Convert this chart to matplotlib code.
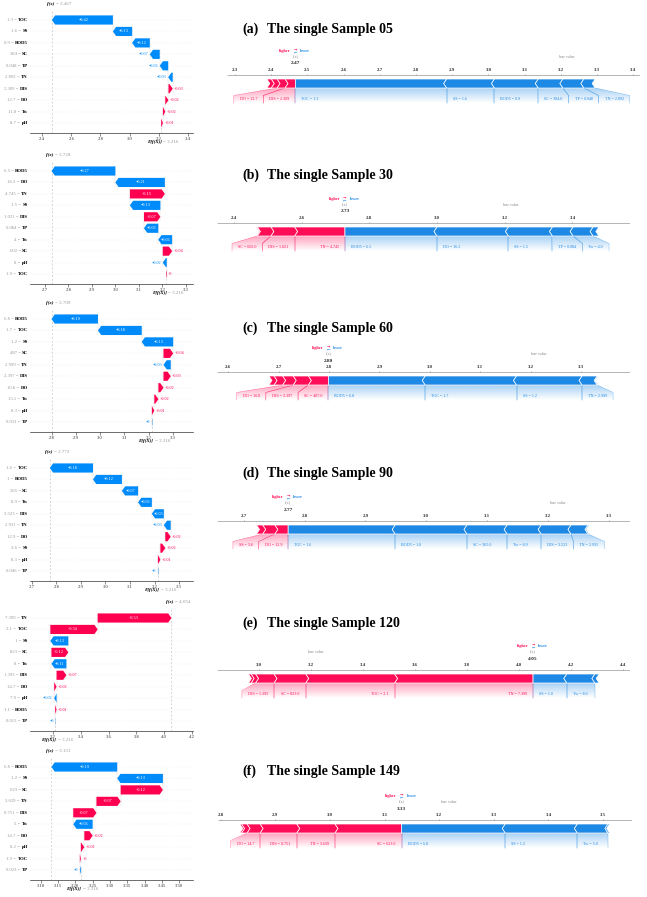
import re
import numpy as np
import matplotlib
matplotlib.use("Agg")
import matplotlib.pyplot as plt
import matplotlib.transforms as mtransforms
from matplotlib.patches import Polygon
from matplotlib.ticker import MultipleLocator
from matplotlib.font_manager import FontProperties
from matplotlib.colors import to_rgb

plt.rcParams['font.family'] = ['Liberation Serif', 'DejaVu Serif']

# ---------------- data ----------------
base_value = 3.216

panel_tags = ["(a)", "(b)", "(c)", "(d)", "(e)", "(f)"]
panel_titles = ["The single Sample 05", "The single Sample 30", "The single Sample 60",
                "The single Sample 90", "The single Sample 120", "The single Sample 149"]

names_a = ["TOC", "SS", "BOD5", "SC", "TP", "TN", "DIS", "DO", "Tw", "pH"]
values_a = [1.3, 1.6, 0.9, 384.0, 0.048, 2.892, 2.309, 12.7, 11.8, 8.7]
shap_a = [-0.418, -0.132, -0.121, -0.068, -0.058, -0.031, 0.029, 0.022, 0.016, 0.012]

names_b = ["BOD5", "DO", "TN", "SS", "DIS", "TP", "Tw", "SC", "pH", "TOC"]
values_b = [6.5, 16.2, 4.745, 1.5, 1.021, 0.084, 4.0, 602.0, 8.0, 1.9]
shap_b = [-0.272, -0.211, 0.149, -0.13, 0.07, -0.061, -0.059, 0.04, -0.017, 0.003]

names_c = ["BOD5", "TOC", "SS", "SC", "TN", "DIS", "DO", "Tw", "pH", "TP"]
values_c = [6.8, 1.7, 1.2, 487.0, 2.999, 2.397, 10.8, 13.1, 8.3, 0.031]
shap_c = [-0.192, -0.181, -0.13, 0.04, -0.03, 0.03, 0.021, 0.017, 0.01, -0.002]

names_d = ["TOC", "BOD5", "SC", "Tw", "DIS", "TN", "DO", "SS", "pH", "TP"]
values_d = [1.6, 1.0, 365.0, 8.9, 3.523, 2.931, 12.9, 3.6, 8.3, 0.046]
shap_d = [-0.176, -0.118, -0.066, -0.056, -0.049, -0.028, 0.022, 0.02, 0.01, -0.002]

names_e = ["TN", "TOC", "SS", "SC", "Tw", "DIS", "DO", "pH", "BOD5", "TP"]
values_e = [7.399, 2.1, 1.0, 823.0, 8.0, 1.393, 14.7, 7.9, 1.1, 0.013]
shap_e = [0.533, 0.342, -0.13, 0.122, -0.108, 0.071, 0.017, -0.017, 0.01, -0.002]

names_f = ["BOD5", "SS", "SC", "TN", "DIS", "Tw", "DO", "pH", "TOC", "TP"]
values_f = [6.8, 1.2, 623.0, 3.639, 0.751, 5.0, 14.7, 8.2, 1.9, 0.023]
shap_f = [-0.19, -0.132, 0.122, 0.07, 0.067, -0.056, 0.024, 0.01, 0.003, -0.003]

all_names = [names_a, names_b, names_c, names_d, names_e, names_f]
all_values = [values_a, values_b, values_c, values_d, values_e, values_f]
all_shap = [shap_a, shap_b, shap_c, shap_d, shap_e, shap_f]

# axis ranges / tick steps
wf_xlim = [(2.317, 3.434), (2.636, 3.331), (2.710, 3.384), (2.692, 3.357), (3.032, 4.21), (3.069, 3.54)]
wf_step = [0.2, 0.1, 0.1, 0.1, 0.2, 0.05]
fp_xlim = [(2.278, 3.419), (2.35, 3.57), (2.578, 3.397), (2.656, 3.335), (2.838, 4.427), (2.795, 3.553)]
fp_step = [0.1, 0.2, 0.1, 0.1, 0.2, 0.1]
label_threshold = 0.018

# ---------------- layout ----------------
W, H = 647, 897
fig = plt.figure(figsize=(W / 100, H / 100), dpi=100)
renderer = fig.canvas.get_renderer()

RED_W, BLUE_W = "#ff0051", "#008bfb"
RED_F, BLUE_F = "#ff0d57", "#1e88e5"
SERIF = ['Liberation Serif', 'DejaVu Serif']


def tw(s, fs, weight='normal'):
    fp = FontProperties(family=SERIF, size=fs, weight=weight)
    w, h, d = renderer.get_text_width_height_descent(s, fp, ismath=False)
    return w


def fmt_shap(v):
    s = f"{v:+.2f}"
    s = re.sub(r"\.?0+$", "", s)
    if s.startswith("-"):
        s = "\u2212" + s[1:]
    return s


def fmt_val(v):
    return re.sub(r"\.?0+$", "", f"{v:.3f}")


FS_ROW = 3.4
FS_BAR = 3.1


def draw_waterfall(ax, names, values, shap, base, xlim, step):
    n = len(shap)
    ax.set_xlim(*xlim)
    ax.set_ylim(n - 1 + 0.87, -0.75)
    wpx = ax.get_position().width * W
    ppu = wpx / (xlim[1] - xlim[0])
    starts = [0.0] * n
    ends = [0.0] * n
    loc = base
    for i in range(n - 1, -1, -1):
        starts[i] = loc
        loc += shap[i]
        ends[i] = loc
    fx = loc
    bh = 0.8
    hl = 3.2 / ppu
    for i in range(n):
        ax.axhline(i, color="#cccccc", lw=0.3, dashes=(1, 4), zorder=-2)
    # connectors
    for i in range(1, n):
        ax.plot([ends[i], ends[i]], [i - 1 - 0.4, i + 0.4], color="#bbbbbb", lw=0.35,
                ls=(0, (2, 2)), zorder=-1)
    ax.axvline(fx, color="#bbbbbb", lw=0.45, ls=(0, (3, 3)), zorder=-1)
    ax.plot([base, base], [n - 1 + 0.87, n - 1 - 0.4], color="#bbbbbb", lw=0.45,
            ls=(0, (3, 3)), zorder=-1)
    for i in range(n):
        v = shap[i]
        s, e = starts[i], ends[i]
        d = 1 if v >= 0 else -1
        col = RED_W if v >= 0 else BLUE_W
        L = abs(v)
        h = min(hl, L)
        neck = e - d * h
        pts = [(s, i - bh / 2), (neck, i - bh / 2), (e, i), (neck, i + bh / 2), (s, i + bh / 2)]
        ax.add_patch(Polygon(pts, closed=True, facecolor=col, edgecolor='none', zorder=2))
        txt = fmt_shap(v)
        if L * ppu > tw(txt, FS_BAR) + 1.8:
            ax.text((s + e) / 2 - d * h * 0.25, i, txt, ha='center', va='center',
                    fontsize=FS_BAR, color='white', zorder=3)
        else:
            ax.text(e + d * 1.5 / ppu, i, txt, ha='left' if d > 0 else 'right', va='center',
                    fontsize=FS_BAR, color=col, zorder=3)
        # row labels
        trans = mtransforms.blended_transform_factory(ax.transAxes, ax.transData) + \
            mtransforms.ScaledTranslation(-2 / 100, 0, fig.dpi_scale_trans)
        t = ax.text(0, i, names[i], transform=trans, ha='right', va='center',
                    fontsize=FS_ROW, color='black', fontweight='bold')
        ax.annotate(fmt_val(values[i]) + " =", xy=(0, 0.5), xycoords=t, xytext=(-1.1, 0),
                    textcoords='offset points', ha='right', va='center',
                    fontsize=FS_ROW, color='#999999')
    for sp in ['left', 'right', 'top']:
        ax.spines[sp].set_visible(False)
    ax.spines['bottom'].set_linewidth(0.5)
    ax.spines['bottom'].set_color('#333333')
    ax.set_yticks([])
    ax.xaxis.set_major_locator(MultipleLocator(step))
    ax.tick_params(axis='x', labelsize=FS_ROW, length=1.8, width=0.4, pad=1.2, colors='#333333')
    # f(x) label on top
    tr_top = mtransforms.blended_transform_factory(ax.transData, ax.transAxes)
    t1 = ax.text(fx, 1, "f(x)", transform=tr_top + mtransforms.ScaledTranslation(-1.5 / 100, 7.4 / 100, fig.dpi_scale_trans),
                 ha='center', va='center', fontsize=3.6, fontstyle='italic', fontweight='bold', color='black')
    ax.annotate(f"= {fx:.3f}", xy=(1, 0.5), xycoords=t1, xytext=(1.2, 0), textcoords='offset points',
                ha='left', va='center', fontsize=3.6, color='#999999')
    t2 = ax.text(base, 0, "E[f(X)]", transform=tr_top + mtransforms.ScaledTranslation(0.5 / 100, -9 / 100, fig.dpi_scale_trans),
                 ha='right', va='center', fontsize=3.6, fontstyle='italic', fontweight='bold', color='black')
    ax.annotate(f"= {base:.3f}", xy=(1, 0.5), xycoords=t2, xytext=(1.2, 0), textcoords='offset points',
                ha='left', va='center', fontsize=3.6, color='#999999')


def label_region(ax, a, b, b0, b1, col, txt, side, u):
    bot, ys, ybot, ylab = 13, 20.5, 28, 23.8
    pts = [(a, bot), (b, bot), (b1, ys), (b1, ybot), (b0, ybot), (b0, ys)]
    rgb = to_rgb(col)
    grad = np.zeros((40, 2, 4))
    grad[..., :3] = rgb
    grad[..., 3] = np.linspace(0.38, 0.0, 40)[:, None]
    x0, x1 = min(a, b0), max(b, b1)
    im = ax.imshow(grad, extent=(x0, x1, ybot, bot), origin='upper', aspect='auto',
                   interpolation='bilinear', zorder=1)
    im.set_clip_path(Polygon(pts, closed=True, transform=ax.transData))
    ax.plot([a, b0, b0], [bot, ys, ybot], color=col, lw=0.35, alpha=0.55, zorder=1.5)
    ax.plot([b, b1, b1], [bot, ys, ybot], color=col, lw=0.35, alpha=0.55, zorder=1.5)
    if side == 'red':
        ax.text(b1 - 6 * u, ylab, txt, ha='right', va='center', fontsize=3.0, color=col, zorder=4)
    else:
        ax.text(b0 + 6 * u, ylab, txt, ha='left', va='center', fontsize=3.0, color=col, zorder=4)


def draw_force(ax, names, values, shap, base, xlim, step, thr):
    n = len(shap)
    ax.set_xlim(*xlim)
    ax.set_ylim(30, -32)
    ax.axis('off')
    wpx = ax.get_position().width * W
    u = (xlim[1] - xlim[0]) / wpx
    fx = base + sum(shap)
    ax.plot(xlim, [0, 0], color='#999999', lw=0.5, solid_capstyle='butt')
    t0 = np.ceil(xlim[0] / step - 1e-9) * step
    for t in np.arange(t0, xlim[1] + 1e-9, step):
        ax.plot([t, t], [0, -1.3], color='#999999', lw=0.4)
        ax.text(t, -5, f"{t:.1f}", ha='center', va='center', fontsize=3.5,
                fontweight='bold', color='#333333')
    # legend + value labels
    ax.text(fx - 5 * u, -24, "higher", color=RED_F, ha='right', va='center', fontsize=3.1, fontweight='bold')
    ax.text(fx + 5 * u, -24, "lower", color=BLUE_F, ha='left', va='center', fontsize=3.1, fontweight='bold')
    ax.text(fx, -25.2, "\u2192", color=RED_F, ha='center', va='center', fontsize=3.0, family='DejaVu Sans')
    ax.text(fx, -22.9, "\u2190", color=BLUE_F, ha='center', va='center', fontsize=3.0, family='DejaVu Sans')
    ax.text(fx, -18, "f(x)", color='#888888', ha='center', va='center', fontsize=2.9)
    ax.text(fx, -11.5, f"{fx:.2f}", color='#222222', ha='center', va='center', fontsize=3.8, fontweight='bold')
    ax.text(base, -18, "base value", color='#888888', ha='center', va='center', fontsize=2.9)

    top, bot, mid = 4, 13, 8.5
    h = 3 * u
    pos_idx = sorted([i for i in range(n) if shap[i] > 0], key=lambda i: -shap[i])
    neg_idx = sorted([i for i in range(n) if shap[i] < 0], key=lambda i: shap[i])
    x = fx
    prev = fx
    for k, i in enumerate(pos_idx):
        a, b = x - shap[i], x
        pts = [(a, top), (b, top)]
        if k > 0:
            pts.append((b + h, mid))
        pts += [(b, bot), (a, bot), (a + h, mid)]
        ax.add_patch(Polygon(pts, closed=True, fc=RED_F, ec='white', lw=0.5, zorder=3))
        x = a
        if abs(shap[i]) >= thr:
            txt = f"{names[i]} = {values[i]!r}"
            need = (tw(txt, 3.0) + 12) * u
            b1 = min(prev, b)
            b0 = min(a, b1 - need)
            b0c = max(b0, xlim[0])
            label_region(ax, a, b, b0c, b1, RED_F, txt, 'red', u)
            prev = b0
    x = fx
    prev = fx
    for k, i in enumerate(neg_idx):
        a, b = x, x - shap[i]
        pts = [(a, top), (b, top), (b - h, mid), (b, bot), (a, bot)]
        if k > 0:
            pts.append((a - h, mid))
        ax.add_patch(Polygon(pts, closed=True, fc=BLUE_F, ec='white', lw=0.5, zorder=3))
        x = b
        if abs(shap[i]) >= thr:
            txt = f"{names[i]} = {values[i]!r}"
            need = (tw(txt, 3.0) + 12) * u
            b0 = max(prev, a)
            b1 = max(b, b0 + need)
            b1c = min(b1, xlim[1])
            label_region(ax, a, b, b0, b1c, BLUE_F, txt, 'blue', u)
            prev = b1
    ax.set_xlim(*xlim)
    ax.set_ylim(30, -32)


wf_first = [20, 171, 319, 468, 618, 767]
row_px = 11.45
fp_axis_y = [75, 223, 372, 521, 670, 820]
fp_left = [227, 217, 217, 217, 217, 218]
fp_right = [640, 630, 630, 630, 630, 632]
title_y = [29, 175, 328, 473, 623, 771]

for k in range(6):
    n = len(all_shap[k])
    top_px = wf_first[k] - 0.75 * row_px
    h_px = (n - 1 + 0.87 + 0.75) * row_px
    axw = fig.add_axes([30 / W, 1 - (top_px + h_px) / H, 163 / W, h_px / H])
    draw_waterfall(axw, all_names[k], all_values[k], all_shap[k], base_value, wf_xlim[k], wf_step[k])

    A = fp_axis_y[k]
    axf = fig.add_axes([fp_left[k] / W, 1 - (A + 30) / H, (fp_right[k] - fp_left[k]) / W, 62 / H])
    draw_force(axf, all_names[k], all_values[k], all_shap[k], base_value, fp_xlim[k], fp_step[k],
               label_threshold)

    fig.text(242 / W, 1 - title_y[k] / H, panel_tags[k], fontsize=10, fontweight='bold', va='center', ha='left')
    fig.text(267 / W, 1 - title_y[k] / H, panel_titles[k], fontsize=10, fontweight='bold', va='center', ha='left')

fig.savefig("out.png", dpi=100)
